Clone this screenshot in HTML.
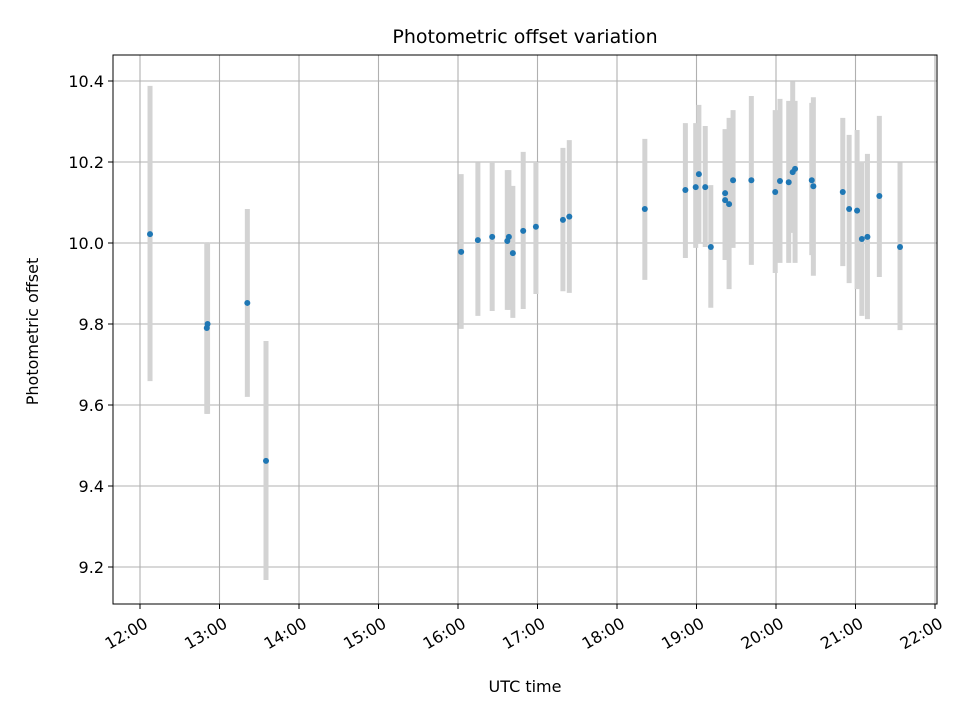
<!DOCTYPE html>
<html><head><meta charset="utf-8"><style>body{margin:0;background:#fff}svg text{font-family:"DejaVu Sans","Liberation Sans",sans-serif;fill:#000}</style></head>
<body>
<svg id="chart" width="960" height="720" xmlns="http://www.w3.org/2000/svg">
<rect width="960" height="720" fill="#fff"/>
<g id="grid"></g><g id="bars"></g><g id="pts"></g><g id="axes"></g>
</svg>
<script>
const times=[12.126,12.84,12.85,13.35,13.585,16.04,16.25,16.43,16.62,16.64,16.69,16.82,16.98,17.32,17.40,18.35,18.86,18.99,19.03,19.11,19.18,19.36,19.36,19.41,19.46,19.69,19.99,20.05,20.16,20.21,20.24,20.45,20.47,20.84,20.92,21.02,21.08,21.15,21.30,21.56];
const values=[10.022,9.79,9.80,9.852,9.462,9.978,10.007,10.015,10.005,10.015,9.975,10.03,10.04,10.057,10.065,10.084,10.131,10.138,10.17,10.138,9.99,10.123,10.106,10.096,10.155,10.155,10.126,10.153,10.15,10.175,10.183,10.155,10.14,10.126,10.084,10.08,10.01,10.015,10.116,9.99];
const lows=[9.659,9.578,9.578,9.620,9.168,9.788,9.820,9.832,9.835,9.835,9.815,9.837,9.874,9.881,9.877,9.909,9.963,9.988,10.0,9.990,9.840,9.958,9.958,9.886,9.988,9.946,9.926,9.951,9.951,10.025,9.951,9.970,9.919,9.943,9.901,9.886,9.820,9.812,9.916,9.785];
const highs=[10.388,10.002,10.002,10.084,9.758,10.170,10.198,10.200,10.180,10.180,10.141,10.225,10.200,10.235,10.254,10.257,10.296,10.296,10.341,10.289,10.143,10.281,10.281,10.309,10.328,10.363,10.328,10.356,10.351,10.398,10.351,10.346,10.360,10.309,10.267,10.279,10.202,10.220,10.314,10.198];
const yTicks=[9.2,9.4,9.6,9.8,10.0,10.2,10.4];
const xTicks=[12,13,14,15,16,17,18,19,20,21,22];
const L=113,R=937,T=55,B=604;
const X=h=>140+(h-12)*79.5;
const Y=v=>81+(10.4-v)*405;
const NS="http://www.w3.org/2000/svg";
function mk(tag,parent,attrs){const e=document.createElementNS(NS,tag);for(const k in attrs)e.setAttribute(k,attrs[k]);document.getElementById(parent).appendChild(e);return e;}
yTicks.forEach(v=>{
 const g=mk('line','grid',{x1:L,x2:R,y1:Y(v),y2:Y(v),stroke:'#b0b0b0','stroke-width':1.1});
 
 
 const tk=mk('line','axes',{x1:L-5,x2:L,y1:Y(v),y2:Y(v),stroke:'#000','stroke-width':1});
 
 
 const t=mk('text','axes',{x:L-9,y:Y(v)+6,'text-anchor':'end','font-size':16});
 t.textContent=v.toFixed(1);
 
 
});
xTicks.forEach(h=>{
 const g=mk('line','grid',{x1:X(h),x2:X(h),y1:T,y2:B,stroke:'#b0b0b0','stroke-width':1.1});
 
 
 const tk=mk('line','axes',{x1:X(h),x2:X(h),y1:B,y2:B+5,stroke:'#000','stroke-width':1});
 
 
 const ax=X(h)+4, ay=B+24;
 const t=mk('text','axes',{x:ax,y:ay,'text-anchor':'end','font-size':16,transform:`rotate(-30 ${ax} ${ay-10})`});
 t.textContent=h+':00';
 
 
});
times.forEach((h,i)=>{
 const b=mk('line','bars',{x1:X(h),x2:X(h),y1:Y(lows[i]),y2:Y(highs[i]),stroke:'#d3d3d3','stroke-width':5});
 
 
 const p=mk('circle','pts',{cx:X(h),cy:Y(values[i]),r:3,fill:'#1f77b4'});
 
 
});
const fr=mk('rect','axes',{x:L,y:T,width:R-L,height:B-T,fill:'none',stroke:'#000','stroke-width':1});


const ti=mk('text','axes',{x:(L+R)/2,y:43,'text-anchor':'middle','font-size':19});
ti.textContent='Photometric offset variation';


const xl=mk('text','axes',{x:(L+R)/2,y:692,'text-anchor':'middle','font-size':16});
xl.textContent='UTC time';


const yl=mk('text','axes',{x:38,y:(T+B)/2+2,'text-anchor':'middle','font-size':16,transform:`rotate(-90 38 ${(T+B)/2+2})`});
yl.textContent='Photometric offset';


</script>
</body></html>
